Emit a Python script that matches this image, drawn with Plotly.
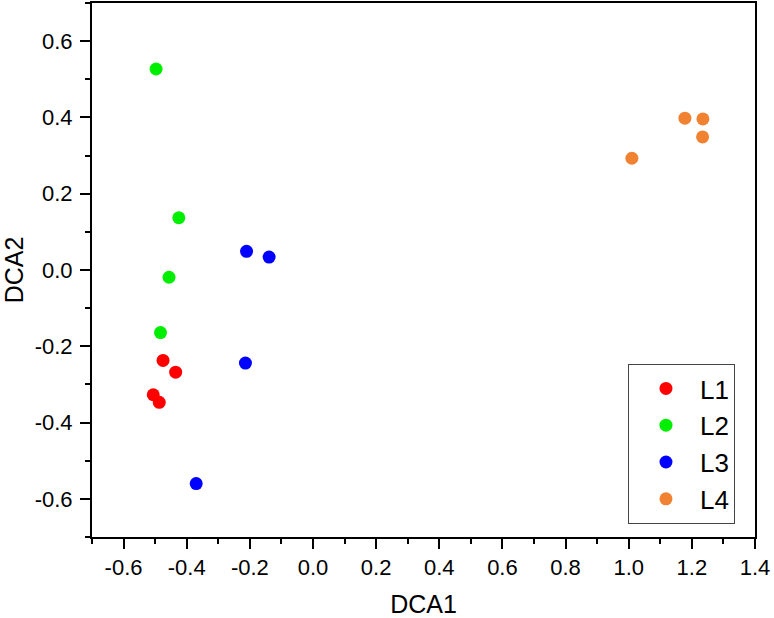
import plotly.graph_objects as go

groups = ["L1", "L2", "L3", "L4"]
colors = ["#FF0000", "#00EE00", "#0000FF", "#F08232"]

l1_x = [-0.475, -0.435, -0.506, -0.487]
l1_y = [-0.237, -0.268, -0.327, -0.347]
l2_x = [-0.497, -0.425, -0.456, -0.483]
l2_y = [0.527, 0.137, -0.019, -0.164]
l3_x = [-0.2105, -0.139, -0.214, -0.370]
l3_y = [0.049, 0.034, -0.244, -0.560]
l4_x = [1.178, 1.235, 1.234, 1.010]
l4_y = [0.398, 0.396, 0.349, 0.293]

xs = [l1_x, l2_x, l3_x, l4_x]
ys = [l1_y, l2_y, l3_y, l4_y]

x_ticks = [-0.6, -0.4, -0.2, 0.0, 0.2, 0.4, 0.6, 0.8, 1.0, 1.2, 1.4]
y_ticks = [-0.6, -0.4, -0.2, 0.0, 0.2, 0.4, 0.6]

fig = go.Figure()
for name, c, x, y in zip(groups, colors, xs, ys):
    fig.add_trace(go.Scatter(x=x, y=y, mode="markers", name=name,
                             marker=dict(color=c, size=13, line=dict(width=0))))

font = "Liberation Sans, Arial, sans-serif"
axis_common = dict(showgrid=False, zeroline=False, showline=True, linecolor="black",
                   linewidth=2, mirror=True, ticks="outside", ticklen=10, tickwidth=2,
                   tickcolor="black", automargin=False,
                   tickfont=dict(family=font, size=22, color="black"))

fig.update_xaxes(range=[-0.7, 1.4], tickvals=x_ticks,
                 ticktext=[f"{v:.1f}" for v in x_ticks],
                 minor=dict(ticks="outside", ticklen=5, tickwidth=2, tickcolor="black", dtick=0.1, tick0=0),
                 title=dict(text="DCA1", font=dict(family=font, size=25, color="black"), standoff=22),
                 **axis_common)
fig.update_yaxes(range=[-0.7, 0.7], tickvals=y_ticks,
                 ticktext=[f"{v:.1f}" for v in y_ticks],
                 minor=dict(ticks="outside", ticklen=5, tickwidth=2, tickcolor="black", dtick=0.1, tick0=0),
                 title=dict(text="DCA2", font=dict(family=font, size=25, color="black"), standoff=14),
                 ticklabelstandoff=3,
                 **axis_common)

fig.update_layout(
    width=774, height=618,
    margin=dict(l=92, r=19, t=3, b=81, autoexpand=False),
    plot_bgcolor="white", paper_bgcolor="white",
    legend=dict(x=0.8084, y=0.324, xanchor="left", yanchor="top",
                bordercolor="#444444", borderwidth=1, bgcolor="white",
                font=dict(family=font, size=26, color="black"),
                indentation=3, itemwidth=58),
    showlegend=True,
)

fig.write_html("out.html", config={"displayModeBar": False},
               post_script="document.body.style.margin='0';document.body.style.overflow='hidden';")
